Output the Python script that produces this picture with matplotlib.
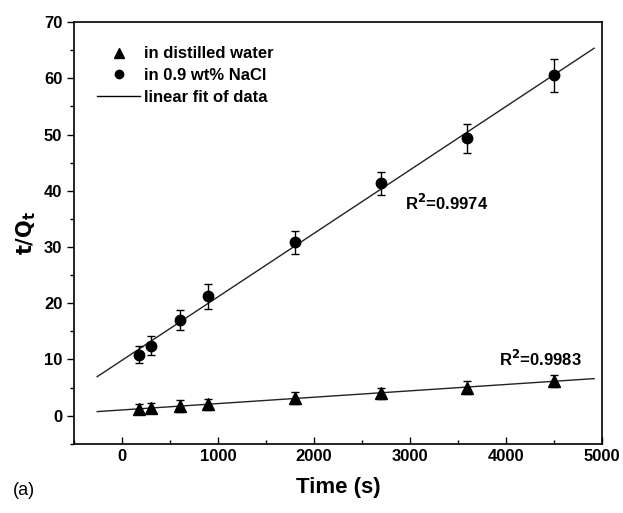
import numpy as np
import matplotlib
matplotlib.use("Agg")
import matplotlib.pyplot as plt
from matplotlib.ticker import MultipleLocator
from matplotlib.lines import Line2D

time_s = [180, 300, 600, 900, 1800, 2700, 3600, 4500]
nacl_vals = [10.8, 12.4, 17.0, 21.2, 30.8, 41.3, 49.3, 60.5]
nacl_err = [1.5, 1.7, 1.8, 2.2, 2.0, 2.1, 2.6, 3.0]
water_vals = [1.2, 1.4, 1.7, 2.0, 3.1, 4.0, 5.0, 6.2]
water_err = [0.9, 0.9, 1.0, 1.0, 1.1, 1.0, 1.1, 1.1]
fit_range = [-260, 4920]
r2_nacl = "0.9974"
r2_water = "0.9983"

plt.rcParams['font.family'] = ['Liberation Sans', 'DejaVu Sans']

fig = plt.figure(figsize=(6.23, 5.13), dpi=100)
ax = fig.add_axes([0.119, 0.135, 0.847, 0.822])

xf = np.array(fit_range, dtype=float)
for vals in (water_vals, nacl_vals):
    k, b = np.polyfit(time_s, vals, 1)
    ax.plot(xf, k * xf + b, color='#222222', lw=1.0, zorder=1)

ax.errorbar(time_s, water_vals, yerr=water_err, fmt='^', color='black',
            ms=8, capsize=3, elinewidth=1, capthick=1, zorder=3)
ax.errorbar(time_s, nacl_vals, yerr=nacl_err, fmt='o', color='black',
            ms=7.5, capsize=3, elinewidth=1, capthick=1, zorder=3)

handles = [Line2D([], [], marker='^', color='black', ls='none', ms=7),
           Line2D([], [], marker='o', color='black', ls='none', ms=6),
           Line2D([], [], color='black', lw=1.0)]
labels = ['in distilled water', 'in 0.9 wt% NaCl', 'linear fit of data']
ax.legend(handles, labels, loc='upper left', bbox_to_anchor=(0.015, 0.978),
          frameon=False, prop={'weight': 'bold', 'size': 12},
          handlelength=2.6, handletextpad=0.2, labelspacing=0.4)

ax.text(2950, 37.8, r"R$^{\mathbf{2}}$=" + r2_nacl, fontsize=12, fontweight='bold', va='center')
ax.text(3930, 10.0, r"R$^{\mathbf{2}}$=" + r2_water, fontsize=12, fontweight='bold', va='center')

ax.set_xlim(-500, 5000)
ax.set_ylim(-5, 70)
ax.xaxis.set_major_locator(MultipleLocator(1000))
ax.xaxis.set_minor_locator(MultipleLocator(500))
ax.yaxis.set_major_locator(MultipleLocator(10))
ax.yaxis.set_minor_locator(MultipleLocator(5))
ax.tick_params(axis='x', which='both', direction='in', top=False)
ax.tick_params(axis='y', which='both', direction='out', right=False)
ax.tick_params(which='major', length=5, width=1, labelsize=12)
ax.tick_params(which='minor', length=3, width=1)
for lab in ax.get_xticklabels() + ax.get_yticklabels():
    lab.set_fontweight('bold')
for s in ax.spines.values():
    s.set_linewidth(1.2)

ax.set_xlabel('Time (s)', fontsize=16, fontweight='bold', labelpad=10)
ax.set_ylabel(r'$\mathbf{t/Q_t}$', fontsize=15, labelpad=4)
fig.text(0.02, 0.035, '(a)', fontsize=13)

fig.savefig('out.png', dpi=100)
